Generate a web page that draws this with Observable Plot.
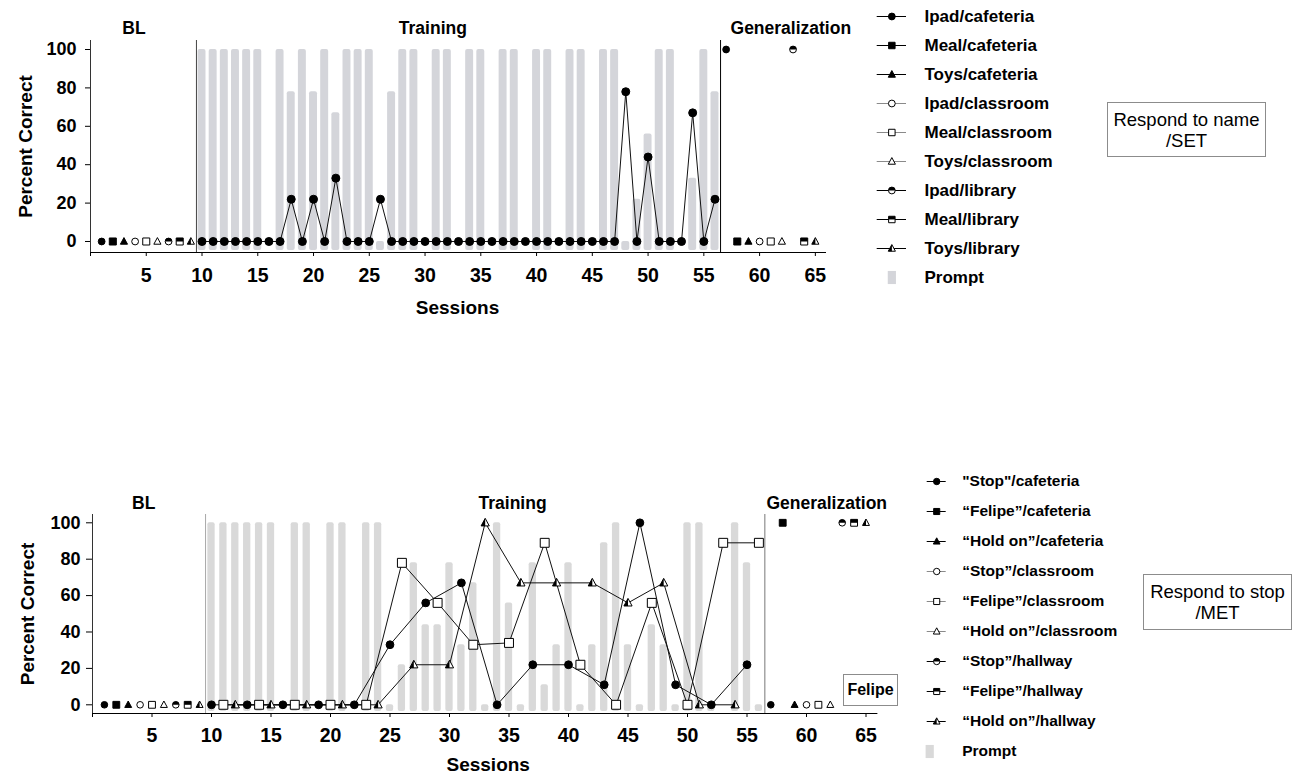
<!DOCTYPE html>
<html>
<head>
<meta charset="utf-8">
<script src="https://cdn.jsdelivr.net/npm/d3@7"></script>
<script src="https://cdn.jsdelivr.net/npm/@observablehq/plot@0.6"></script>
<style>
  html, body { margin: 0; padding: 0; background: #fff; }
  #root { position: relative; width: 1292px; height: 775px; overflow: hidden; font-family: "Liberation Sans", Arial, sans-serif; }
  .slot { position: absolute; }
  .slot svg { max-width: none; display: block; }
  .note { position: absolute; box-sizing: border-box; border: 1px solid #8c8c8c; background: #fff; text-align: center; color: #000; }
</style>
</head>
<body>
<div id="root"></div>
<script>
// ---------------- DATA ----------------
const xTicks = [0, 5, 10, 15, 20, 25, 30, 35, 40, 45, 50, 55, 60, 65];
const yTicks = [0, 20, 40, 60, 80, 100];
const phaseNames = ["BL", "Training", "Generalization"];
const phaseChanges = [9.5, 56.5];
const topPhaseCenters = [3.9, 30.7, 62.8];
const bottomPhaseCenters = [4.3, 35.3, 61.7];

// Panel 1: Respond to name / SET
const topSeries = ["Ipad/cafeteria", "Meal/cafeteria", "Toys/cafeteria", "Ipad/classroom", "Meal/classroom", "Toys/classroom", "Ipad/library", "Meal/library", "Toys/library"];
const topBaselineSessions = [1, 2, 3, 4, 5, 6, 7, 8, 9];
const topBaselineValues = [0, 0, 0, 0, 0, 0, 0, 0, 0];
const topTrainingSessions = [10, 11, 12, 13, 14, 15, 16, 17, 18, 19, 20, 21, 22, 23, 24, 25, 26, 27, 28, 29, 30, 31, 32, 33, 34, 35, 36, 37, 38, 39, 40, 41, 42, 43, 44, 45, 46, 47, 48, 49, 50, 51, 52, 53, 54, 55, 56];
const topTrainingValues = [0, 0, 0, 0, 0, 0, 0, 0, 22, 0, 22, 0, 33, 0, 0, 0, 22, 0, 0, 0, 0, 0, 0, 0, 0, 0, 0, 0, 0, 0, 0, 0, 0, 0, 0, 0, 0, 0, 78, 0, 44, 0, 0, 0, 67, 0, 22];
const topGeneralizationSessions = [57, 58, 59, 60, 61, 62, 63, 64, 65];
const topGeneralizationValues = [100, 0, 0, 0, 0, 0, 100, 0, 0];
const topPromptSessions = [10, 11, 12, 13, 14, 15, 17, 18, 19, 20, 21, 22, 23, 24, 25, 26, 27, 28, 29, 31, 32, 34, 35, 37, 38, 40, 41, 43, 44, 46, 47, 48, 49, 50, 51, 52, 54, 55, 56];
const topPromptValues = [100, 100, 100, 100, 100, 100, 100, 78, 100, 78, 100, 67, 100, 100, 100, 0, 78, 100, 100, 100, 100, 100, 100, 100, 100, 100, 100, 100, 100, 100, 100, 0, 22, 56, 100, 100, 33, 100, 78];

// Panel 2: Respond to stop / MET
const bottomSeries = ["\"Stop\"/cafeteria", "“Felipe”/cafeteria", "“Hold on”/cafeteria", "“Stop”/classroom", "“Felipe”/classroom", "“Hold on”/classroom", "“Stop”/hallway", "“Felipe”/hallway", "“Hold on”/hallway"];
const bottomBaselineSessions = [1, 2, 3, 4, 5, 6, 7, 8, 9];
const bottomBaselineValues = [0, 0, 0, 0, 0, 0, 0, 0, 0];
const stopCafeteriaSessions = [10, 13, 16, 19, 22, 25, 28, 31, 34, 37, 40, 43, 46, 49, 52, 55];
const stopCafeteriaValues = [0, 0, 0, 0, 0, 33, 56, 67, 0, 22, 22, 11, 100, 11, 0, 22];
const felipeClassroomSessions = [11, 14, 17, 20, 23, 26, 29, 32, 35, 38, 41, 44, 47, 50, 53, 56];
const felipeClassroomValues = [0, 0, 0, 0, 0, 78, 56, 33, 34, 89, 22, 0, 56, 0, 89, 89];
const holdOnHallwaySessions = [12, 15, 18, 21, 24, 27, 30, 33, 36, 39, 42, 45, 48, 51, 54];
const holdOnHallwayValues = [0, 0, 0, 0, 0, 22, 22, 100, 67, 67, 67, 56, 67, 0, 0];
const bottomGeneralizationSessions = [57, 58, 59, 60, 61, 62, 63, 64, 65];
const bottomGeneralizationValues = [0, 100, 0, 0, 0, 0, 100, 100, 100];
const bottomPromptSessions = [10, 11, 12, 13, 14, 15, 17, 18, 20, 21, 23, 24, 25, 26, 27, 28, 29, 30, 31, 32, 33, 34, 35, 36, 37, 38, 39, 40, 41, 42, 43, 44, 45, 46, 47, 48, 49, 50, 51, 52, 54, 55, 56];
const bottomPromptValues = [100, 100, 100, 100, 100, 100, 100, 100, 100, 100, 100, 100, 0, 22, 78, 44, 44, 78, 33, 67, 0, 100, 56, 0, 78, 11, 33, 78, 0, 33, 89, 100, 33, 0, 44, 33, 0, 100, 100, 0, 100, 78, 0];

// ---------------- SYMBOLS ----------------
const rOf = size => Math.sqrt(size / Math.PI);
const SYM = {
  circle: { draw(c, s) { const r = rOf(s); c.moveTo(r, 0); c.arc(0, 0, r, 0, 2 * Math.PI); c.closePath(); } },
  circleHalf: { draw(c, s) { const r = rOf(s); c.moveTo(-r, 0); c.arc(0, 0, r, Math.PI, 2 * Math.PI); c.closePath(); } },
  square: { draw(c, s) { const h = rOf(s) * 0.95; c.moveTo(-h, -h); c.lineTo(h, -h); c.lineTo(h, h); c.lineTo(-h, h); c.closePath(); } },
  squareHalf: { draw(c, s) { const h = rOf(s) * 0.95; c.moveTo(-h, -h); c.lineTo(h, -h); c.lineTo(h, 0); c.lineTo(-h, 0); c.closePath(); } },
  triangle: { draw(c, s) { const r = rOf(s); c.moveTo(0, -r * 1.15); c.lineTo(r * 1.05, r * 0.8); c.lineTo(-r * 1.05, r * 0.8); c.closePath(); } },
  triangleHalf: { draw(c, s) { const r = rOf(s); c.moveTo(0, -r * 1.15); c.lineTo(0, r * 0.8); c.lineTo(-r * 1.05, r * 0.8); c.closePath(); } },
  bar: { draw(c, s) { const r = rOf(s); const w = r, h = r * 1.6; c.moveTo(-w, -h); c.lineTo(w, -h); c.lineTo(w, h); c.lineTo(-w, h); c.closePath(); } }
};
const shapeOf = k => ["circle", "square", "triangle"][k % 3];

function markers(data, k, r, extra = {}) {
  const shape = shapeOf(k);
  const kind = Math.floor(k / 3);
  const base = { x: "x", y: "y", r, symbol: SYM[shape], stroke: "#000", strokeWidth: 1, ...extra };
  if (kind === 0) return [Plot.dot(data, { ...base, fill: "#000" })];
  if (kind === 1) return [Plot.dot(data, { ...base, fill: "#fff" })];
  return [
    Plot.dot(data, { ...base, fill: "#fff" }),
    Plot.dot(data, { ...base, symbol: SYM[shape + "Half"], fill: "#000", stroke: "none" })
  ];
}

const rows = (xs, ys, extra = {}) => xs.map((x, i) => ({ x, y: ys[i], k: i, ...extra }));
const FONT = "Liberation Sans, Arial, sans-serif";

function panel(cfg) {
  const yDom = cfg.yDomain;
  const bars = rows(cfg.promptSessions, cfg.promptValues);
  const base = rows(cfg.baselineSessions, cfg.baselineValues);
  const gen = rows(cfg.genSessions, cfg.genValues);
  const phases = phaseNames.map((name, i) => ({ name, x: cfg.phaseCenters[i] }));
  const marks = [
    Plot.rect(bars, { x1: d => d.x - 0.5, x2: d => d.x + 0.5, y1: yDom[0], y2: "y", insetLeft: cfg.barInset, insetRight: cfg.barInset, insetBottom: 2, fill: cfg.barColor, rx: 2 }),
    Plot.ruleX(phaseChanges, { stroke: (d, i) => cfg.phaseColors[i], strokeWidth: 1 }),
    Plot.ruleY([yDom[0]], { stroke: "#000", strokeWidth: 1 }),
    Plot.ruleX([0], { stroke: "#333", strokeWidth: 1 }),
    Plot.axisX({ ticks: xTicks, tickFormat: d => d === 0 ? "" : String(d), tickSize: 4, tickPadding: cfg.xPad, fontSize: 19.5, fontWeight: "bold", label: null, fill: "#000", stroke: "#000" }),
    Plot.axisY({ ticks: yTicks, tickSize: cfg.yTick, tickPadding: cfg.yPad, fontSize: 18, fontWeight: "bold", label: null, fill: "#000", stroke: "#000" })
  ];
  for (const tr of cfg.training) {
    const data = rows(tr.sessions, tr.values);
    marks.push(Plot.line(data, { x: "x", y: "y", stroke: "#111", strokeWidth: 1 }));
  }
  for (const tr of cfg.training) {
    marks.push(...markers(rows(tr.sessions, tr.values), tr.k, tr.r));
  }
  for (let k = 0; k < 9; k++) {
    const rr = k % 3 === 1 ? cfg.smallR + 0.3 : cfg.smallR;
    marks.push(...markers(base.filter(d => d.k === k), k, rr));
    marks.push(...markers(gen.filter(d => d.k === k), k, rr));
  }
  marks.push(
    Plot.text(phases, { x: "x", text: "name", frameAnchor: "top", lineAnchor: "middle", dy: cfg.phaseDy, fontSize: 17.5, fontWeight: "bold", fill: "#000", letterSpacing: "-0.3px" }),
    Plot.text(["Percent Correct"], { text: d => d, frameAnchor: "left", dx: -65, rotate: -90, textAnchor: "middle", lineAnchor: "middle", fontSize: 19, fontWeight: "bold", fill: "#000" }),
    Plot.text(["Sessions"], { text: d => d, frameAnchor: "bottom", dy: cfg.sessionsDy, dx: cfg.sessionsDx, textAnchor: "middle", lineAnchor: "middle", fontSize: 19, fontWeight: "bold", fill: "#000" })
  );
  return Plot.plot({
    width: cfg.width, height: cfg.height,
    marginLeft: cfg.ml, marginRight: cfg.mr, marginTop: cfg.mt, marginBottom: cfg.mb,
    x: { domain: [0, 66] },
    y: { domain: yDom },
    style: { fontFamily: FONT, background: "transparent", overflow: "visible" },
    marks
  });
}

function legend(cfg) {
  const items = cfg.series.map((name, k) => ({ name, k }));
  const all = items.concat([{ name: "Prompt", k: -1 }]);
  const marks = [
    Plot.ruleY(items, { y: "name", x1: 0, x2: 1, stroke: d => (d.k >= 3 && d.k < 6) ? "#8a8a8a" : "#000", strokeWidth: 1 })
  ];
  for (const it of items) marks.push(...markers([it], it.k, cfg.r, { x: 0.5, y: "name" }));
  marks.push(Plot.dot([all[all.length - 1]], { x: 0.5, y: "name", dx: cfg.swatchDx, r: 4.1, symbol: SYM.bar, fill: cfg.barColor, stroke: "none" }));
  marks.push(Plot.text(all, { x: 1, y: "name", text: "name", dx: cfg.textDx, textAnchor: "start", fontSize: cfg.fontSize, fontWeight: "bold", fill: "#000", letterSpacing: "-0.3px" }));
  return Plot.plot({
    width: cfg.width, height: cfg.height, margin: 0,
    x: { domain: [0, 1], range: cfg.xRange, axis: null },
    y: { type: "point", domain: all.map(d => d.name), range: cfg.yRange, padding: 0, axis: null },
    style: { fontFamily: FONT, background: "transparent", overflow: "visible" },
    marks
  });
}

// ---------------- BUILD ----------------
const root = document.getElementById("root");
function place(node, left, top) {
  const d = document.createElement("div");
  d.className = "slot";
  d.style.left = left + "px";
  d.style.top = top + "px";
  d.appendChild(node);
  root.appendChild(d);
}
function note(lines, left, top, w, h, fs, weight, lh) {
  const d = document.createElement("div");
  d.className = "note";
  Object.assign(d.style, { left: left + "px", top: top + "px", width: w + "px", height: h + "px", fontSize: fs + "px", fontWeight: weight, lineHeight: lh + "px", paddingTop: ((h - lh * lines.length) / 2 - 1) + "px" });
  lines.forEach((t, i) => { if (i) d.appendChild(document.createElement("br")); d.appendChild(document.createTextNode(t)); });
  root.appendChild(d);
}

place(panel({
  width: 870, height: 320, ml: 90, mr: 44, mt: 40, mb: 68,
  yDomain: [-5.73, 104.69],
  promptSessions: topPromptSessions, promptValues: topPromptValues,
  baselineSessions: topBaselineSessions, baselineValues: topBaselineValues,
  genSessions: topGeneralizationSessions, genValues: topGeneralizationValues,
  training: [{ sessions: topTrainingSessions, values: topTrainingValues, k: 0, r: 4 }],
  phaseCenters: topPhaseCenters, phaseColors: ["#444", "#000"],
  barColor: "#d4d5da", barInset: 1.6, smallR: 3.4,
  xPad: 12, yTick: 5, yPad: 9, phaseDy: -12, sessionsDy: 55, sessionsDx: -1
}), 0, 0);

place(legend({
  series: topSeries, width: 250, height: 300, xRange: [16.7, 46], yRange: [15, 278],
  r: 3.4, textDx: 18, fontSize: 17, barColor: "#d4d5da", swatchDx: 0
}), 860, 0);

place(panel({
  width: 900, height: 315, ml: 92, mr: 22.6, mt: 54, mb: 62,
  yDomain: [-4.78, 104.56],
  promptSessions: bottomPromptSessions, promptValues: bottomPromptValues,
  baselineSessions: bottomBaselineSessions, baselineValues: bottomBaselineValues,
  genSessions: bottomGeneralizationSessions, genValues: bottomGeneralizationValues,
  training: [
    { sessions: stopCafeteriaSessions, values: stopCafeteriaValues, k: 0, r: 3.9 },
    { sessions: felipeClassroomSessions, values: felipeClassroomValues, k: 4, r: 4.7 },
    { sessions: holdOnHallwaySessions, values: holdOnHallwayValues, k: 8, r: 3.9 }
  ],
  phaseCenters: bottomPhaseCenters, phaseColors: ["#a8a8a8", "#777"],
  barColor: "#d9d9d9", barInset: 2.3, smallR: 3.3,
  xPad: 11, yTick: 6, yPad: 6, phaseDy: -11, sessionsDy: 51, sessionsDx: 3
}), 0, 460);

place(legend({
  series: bottomSeries, width: 240, height: 315, xRange: [26.7, 45.7], yRange: [18, 293],
  r: 3.2, textDx: 16, fontSize: 15.5, barColor: "#d9d9d9", swatchDx: -7
}), 900, 460);

note(["Respond to name", "/SET"], 1107, 102, 159, 55, 18.5, "normal", 21);
note(["Respond to stop", "/MET"], 1143, 574, 149, 56, 18.5, "normal", 21.5);
note(["Felipe"], 843, 674, 55, 32, 16, "bold", 20);
</script>
</body>
</html>
